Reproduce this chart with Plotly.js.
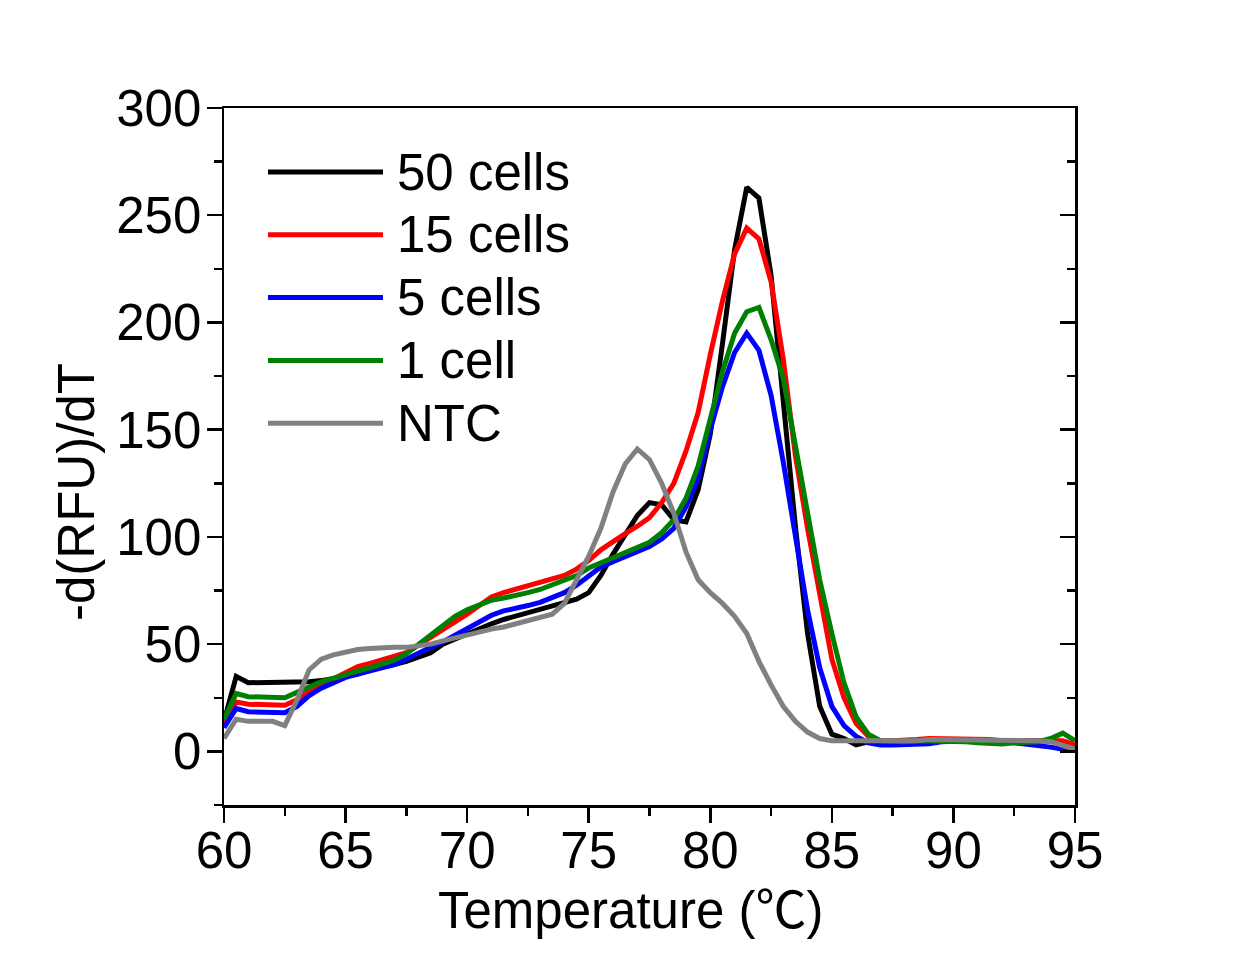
<!DOCTYPE html>
<html>
<head>
<meta charset="utf-8">
<script src="https://cdn.plot.ly/plotly-3.0.1.min.js"></script>
<style>
html,body{margin:0;padding:0;background:#fff;}
#chart{width:1247px;height:967px;}
</style>
</head>
<body>
<div id="chart"></div>
<script>
// Temperature axis (°C), sampled every 0.5 °C
const temperature = [60,60.5,61,61.5,62,62.5,63,63.5,64,64.5,65,65.5,66,66.5,67,67.5,68,68.5,69,69.5,70,70.5,71,71.5,72,72.5,73,73.5,74,74.5,75,75.5,76,76.5,77,77.5,78,78.5,79,79.5,80,80.5,81,81.5,82,82.5,83,83.5,84,84.5,85,85.5,86,86.5,87,87.5,88,88.5,89,89.5,90,90.5,91,91.5,92,92.5,93,93.5,94,94.5,95];

const seriesNames = ["50 cells", "15 cells", "5 cells", "1 cell", "NTC"];

const cells50 = [14,35,32,32,32,32,32,32.5,33,34,35,36,38,39,40.5,42,44,46,50,52.5,55,57.5,59.5,61.5,63,64.5,66,67.5,69.5,71,74,82,92,101,110,116,115,108,107,122,148,190,234,263,258,222,164,105,55,21,8,6,3,4.5,4.5,5,5,5,5.5,5.5,5,5,5,5,5,5,5.5,5.5,5,4,3];

const cells15 = [12,23,22,22,22,21.5,24,28,31,34,37,39.5,41,42.5,44,46,49.5,53,56.5,60,64,68,72,74,75.5,77,78.5,80,82,85,89,94,98,101.5,105,109,116,125,140,158,185,210,232,244,239,219,183,138,104,72,43,25,13,7,5,5,5,5.5,6,6,6,6,5.5,5.5,5,5,5,5,5,5,3];

const cells5 = [11,20,18.5,18.5,18.5,18,21,26,29.5,32,34.5,36,37.5,38.5,40.5,43,46,48.5,51,54,57,60.5,63.5,65.5,66.5,68,69.5,71.5,74,77.5,82,86,88.5,91,93,95.5,99,104,114,127,150,170,186,195,187,166,135,100,66,39,21,12,7,4,3,3,3,3,3.5,4.5,5,5,5,5,4.5,4,3.5,3,2,1,0.5];

const cells1 = [15,27,25.5,25.5,25.5,25,27.5,30,32.5,34,36,37.5,39,40.5,42.5,45.5,50,54,58.5,63,66,68.5,70.5,71.5,72.5,74,75.5,77.5,79.5,82,85.5,88,90.5,93,95,97.5,102,108,118,133,155,177,195,205,207,192,174,143,110,80,55,32,16,8,5,4.5,4.5,5,5,5,5,4.5,4,3.5,3.5,4,4,4.5,6,8.5,5];

const ntc = [6,15,14,14,14,12,24,38,43,45,46.5,47.5,48,48.5,48.5,48.5,49,50,51.5,53,54,55.5,57,58,59.5,60.5,62,64,69,80,91,104,121,134,141,136,125,111,93,80,74,69,63,55,42,31,21,14,9,6,5,5,5,4.5,4.5,4.5,5,5,5.5,5.5,5,5,5,5,5,5.5,5.5,5,4.5,3,1];

const seriesColors = ["#000000", "#ff0000", "#0000ff", "#008000", "#808080"];
const seriesValues = [cells50, cells15, cells5, cells1, ntc];

const xTitle = "Temperature (<span style=\"font-family:'Noto Sans CJK SC'\">℃</span>)";
const yTitle = "-d(RFU)/dT";

const FONT = "Liberation Sans, Arial, Helvetica, sans-serif";
const FS = 51;
const TFS = 51;
const LW = 5;

const traces = seriesValues.map((vals, i) => ({
  type: "scatter",
  mode: "lines",
  x: temperature,
  y: vals,
  name: seriesNames[i],
  line: {color: seriesColors[i], width: LW, shape: "linear"},
  showlegend: false,
  hoverinfo: "skip"
}));
// empty trace to hold the right-hand mirror axis
traces.push({type: "scatter", mode: "lines", x: [], y: [], xaxis: "x", yaxis: "y2", showlegend: false, hoverinfo: "skip"});

const plotL = 224, plotR = 1075, plotT = 108, plotB = 805;
const px2x = p => (p - plotL) / (plotR - plotL);
const py2y = p => (plotB - p) / (plotB - plotT);

// manual legend (long line samples as in the reference)
const L = {x0: 268, x1: 383, tx: 395, y0: 172, dy: 62.8};
const shapes = [];
const annotations = [];
seriesNames.forEach((nm, i) => {
  const yy = py2y(L.y0 + i * L.dy);
  shapes.push({type: "line", xref: "paper", yref: "paper", x0: px2x(L.x0), x1: px2x(L.x1), y0: yy, y1: yy,
    line: {color: seriesColors[i], width: LW}});
  annotations.push({xref: "paper", yref: "paper", x: px2x(L.tx), y: yy, xanchor: "left", yanchor: "middle",
    text: nm, showarrow: false, font: {family: FONT, size: FS, color: "#000"}});
});

// axis titles placed as in the reference
annotations.push({xref: "paper", yref: "paper", x: px2x(630), y: py2y(906), xanchor: "center", yanchor: "middle",
  text: xTitle, showarrow: false, font: {family: FONT, size: TFS, color: "#000"}});
annotations.push({xref: "paper", yref: "paper", x: px2x(76), y: py2y(492), xanchor: "center", yanchor: "middle",
  text: yTitle, textangle: -90, showarrow: false, font: {family: FONT, size: TFS, color: "#000"}});

const layout = {
  width: 1247, height: 967,
  paper_bgcolor: "#ffffff", plot_bgcolor: "#ffffff",
  margin: {l: plotL, r: 1247 - plotR, t: plotT, b: 967 - plotB, pad: 0},
  font: {family: FONT, size: FS, color: "#000"},
  showlegend: false,
  xaxis: {
    range: [60, 95], dtick: 5, tick0: 60,
    ticks: "outside", ticklen: 15, tickwidth: 2.5, tickcolor: "#000",
    minor: {dtick: 2.5, ticks: "outside", ticklen: 8, tickwidth: 2.5, tickcolor: "#000", showgrid: false},
    showline: true, linewidth: 2.5, linecolor: "#000", mirror: true,
    showgrid: false, zeroline: false,
    ticklabelstandoff: -16,
    tickfont: {family: FONT, size: FS, color: "#000"}
  },
  yaxis: {
    range: [-25, 300], dtick: 50, tick0: 0,
    ticks: "outside", ticklen: 15, tickwidth: 2.5, tickcolor: "#000",
    minor: {dtick: 25, ticks: "outside", ticklen: 8, tickwidth: 2.5, tickcolor: "#000", showgrid: false},
    showline: true, linewidth: 2.5, linecolor: "#000", mirror: true,
    showgrid: false, zeroline: false,
    ticklabelstandoff: -5,
    tickfont: {family: FONT, size: FS, color: "#000"}
  },
  yaxis2: {
    overlaying: "y", side: "right", range: [-25, 300], dtick: 50, tick0: 0,
    ticks: "inside", ticklen: 15, tickwidth: 2.5, tickcolor: "#000",
    minor: {dtick: 25, ticks: "inside", ticklen: 8, tickwidth: 2.5, tickcolor: "#000", showgrid: false},
    showline: true, linewidth: 2.5, linecolor: "#000",
    showticklabels: false, showgrid: false, zeroline: false
  },
  shapes: shapes,
  annotations: annotations
};

Plotly.newPlot("chart", traces, layout, {staticPlot: true, displayModeBar: false});
</script>
</body>
</html>
